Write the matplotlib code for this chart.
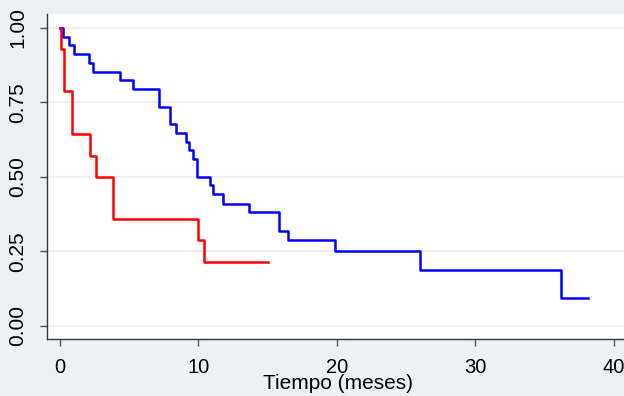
import matplotlib
matplotlib.use("Agg")
import matplotlib.pyplot as plt

# Kaplan-Meier step data
blue_times = [0, 0.24, 0.65, 1.01, 2.1, 2.38, 4.36, 5.25, 7.13, 7.97, 8.4, 9.08, 9.3,
              9.59, 9.88, 10.84, 11.08, 11.76, 13.66, 15.83, 16.5, 19.85, 26.0, 36.18, 38.13]
blue_surv = [1.0, 0.970, 0.941, 0.912, 0.882, 0.853, 0.824, 0.794, 0.735, 0.676, 0.647, 0.618,
             0.588, 0.559, 0.5, 0.471, 0.441, 0.410, 0.381, 0.318, 0.288, 0.251, 0.187, 0.094, 0.094]

red_times = [0, 0.1, 0.31, 0.89, 2.19, 2.6, 3.81, 10.0, 10.38, 15.0]
red_surv = [1.0, 0.929, 0.786, 0.643, 0.571, 0.5, 0.357, 0.286, 0.214, 0.214]

x_ticks = [0, 10, 20, 30, 40]
y_ticks = [0.0, 0.25, 0.5, 0.75, 1.0]
y_tick_labels = ["0.00", "0.25", "0.50", "0.75", "1.00"]
x_label = "Tiempo (meses)"

plt.rcParams['font.family'] = ['Liberation Sans', 'DejaVu Sans']

bg = "#EAF2F3"
fig = plt.figure(figsize=(6.24, 3.96), dpi=100, facecolor=bg)
ax = fig.add_axes([47 / 624, 1 - 339 / 396, 1 - 47 / 624, (339 - 14) / 396])
ax.set_facecolor("white")

ax.step(blue_times, blue_surv, where="post", color="#0000FF", lw=1.8, zorder=3)
ax.step(red_times, red_surv, where="post", color="#FF0000", lw=1.8, zorder=3)

ax.set_xlim(-0.94, 40.75)
ax.set_ylim(-0.0446, 1.046)

ax.set_xticks(x_ticks)
ax.set_yticks(y_ticks)
ax.set_yticklabels(y_tick_labels, rotation=90, va="center")

ax.grid(axis="y", color=bg, lw=1.6, zorder=1)
ax.grid(axis="x", visible=False)

for s in ["top", "right"]:
    ax.spines[s].set_visible(False)
for s in ["left", "bottom"]:
    ax.spines[s].set_color("#333333")
    ax.spines[s].set_linewidth(1.0)

ax.tick_params(axis="both", direction="out", length=5, width=1.0, color="#555555",
               labelcolor="black")
ax.tick_params(axis="y", labelsize=15, pad=9)
ax.tick_params(axis="x", labelsize=14.5, pad=9)

ax.set_xlabel(x_label, fontsize=15, va="baseline")
ax.xaxis.set_label_coords(0.504, (339 - 389) / 325)

fig.savefig("out.png", dpi=100, facecolor=bg)
